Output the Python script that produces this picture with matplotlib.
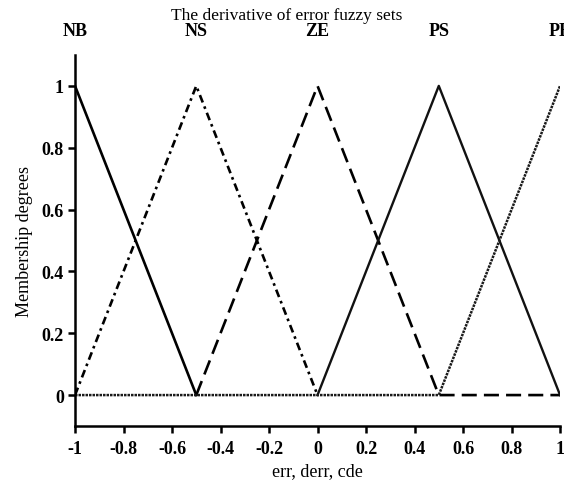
import matplotlib
matplotlib.use("Agg")
import matplotlib.pyplot as plt

# membership functions of the derivative of error (breakpoints)
set_names = ["NB", "NS", "ZE", "PS", "PB"]
set_centers = [-1.0, -0.5, 0.0, 0.5, 1.0]

nb_x = [-1.0, -0.5]
nb_y = [1.0, 0.0]
ns_x = [-1.0, -0.5, 0.0]
ns_y = [0.0, 1.0, 0.0]
ze_x = [-0.5, 0.0, 0.5, 1.0]
ze_y = [0.0, 1.0, 0.0, 0.0]
ps_x = [0.0, 0.5, 1.0]
ps_y = [0.0, 1.0, 0.0]
pb_x = [-1.0, 0.5, 1.0]
pb_y = [0.0, 0.0, 1.0]

x_ticks = [-1, -0.8, -0.6, -0.4, -0.2, 0, 0.2, 0.4, 0.6, 0.8, 1]
x_tick_labels = ["-1", "-0.8", "-0.6", "-0.4", "-0.2", "0", "0.2", "0.4", "0.6", "0.8", "1"]
y_ticks = [0, 0.2, 0.4, 0.6, 0.8, 1]
y_tick_labels = ["0", "0.2", "0.4", "0.6", "0.8", "1"]

plt.rcParams['font.family'] = ['Liberation Serif', 'DejaVu Serif']

fig = plt.figure(figsize=(5.64, 4.85), dpi=100)
ax = fig.add_axes([0.133, 0.1196, 0.86, 0.765])

ax.plot(nb_x, nb_y, color='black', linewidth=1.9, linestyle='-')
ax.plot(ns_x, ns_y, color='black', linewidth=1.9, linestyle=(0, (3.0, 1.6, 1, 1.6)))
ax.plot(ze_x, ze_y, color='black', linewidth=1.9, linestyle=(0, (5.7, 2.7)))
ax.plot(ps_x, ps_y, color='#111111', linewidth=1.7, linestyle='-')
ax.plot(pb_x, pb_y, color='#1a1a1a', linewidth=1.8, linestyle=(0, (1, 0.4)))

ax.set_xlim(-1, 1)
ax.set_ylim(-0.1, 1.1)

for side in ['top', 'right']:
    ax.spines[side].set_visible(False)
for side in ['left', 'bottom']:
    ax.spines[side].set_linewidth(1.8)

ax.set_xticks(x_ticks)
ax.set_xticklabels(x_tick_labels, fontweight='bold', fontsize=13)
ax.set_yticks(y_ticks)
ax.set_yticklabels(y_tick_labels, fontweight='bold', fontsize=13)
ax.tick_params(direction='out', length=5, width=1.8, pad=3)
ax.tick_params(axis='x', pad=5)

ax.set_xlabel('err, derr, cde', fontsize=13, labelpad=4)
ax.set_ylabel('Membership degrees', fontsize=13, labelpad=6)

# fuzzy set names above the axes
for name, c in zip(set_names, set_centers):
    ax.text(c, 1.18, name, ha='center', va='center', fontsize=13,
            fontweight='bold', clip_on=False)

fig.text(0.508, 0.967, 'The derivative of error fuzzy sets', ha='center',
         va='center', fontsize=12.5)

fig.savefig('out.png', dpi=100)
